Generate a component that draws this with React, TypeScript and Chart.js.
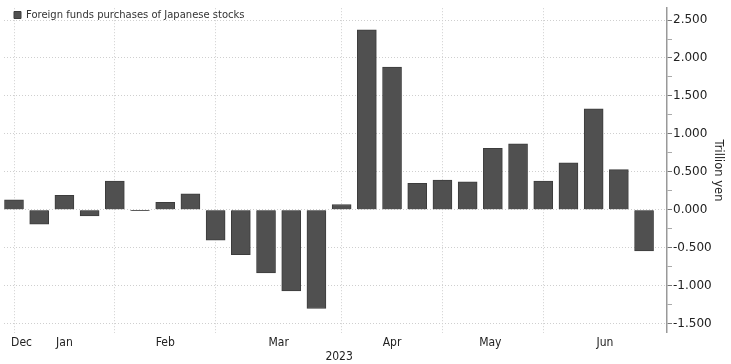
import { useEffect, useRef } from 'react';
import { Chart, registerables } from 'chart.js';

Chart.register(...registerables);

const SERIES_LABEL = 'Foreign funds purchases of Japanese stocks';
const WEEK_INDEX = [0, 1, 2, 3, 4, 5, 6, 7, 8, 9, 10, 11, 12, 13, 14, 15, 16, 17, 18, 19, 20, 21, 22, 23, 24, 25];
const VALUES = [0.13, -0.19, 0.19, -0.08, 0.38, -0.01, 0.1, 0.21, -0.4, -0.59, -0.83, -1.07, -1.3, 0.07, 2.37, 1.88, 0.35, 0.39, 0.37, 0.81, 0.87, 0.38, 0.62, 1.33, 0.53, -0.54];

const MONTH_LABELS = ['Dec', 'Jan', 'Feb', 'Mar', 'Apr', 'May', 'Jun'];
const MONTH_LABEL_POS = [0.3, 2, 6, 10.5, 15, 18.9, 23.45];
const MONTH_GRID_POS = [0, 4, 8, 13, 17, 21];
const YEAR_LABEL = '2023';
const YEAR_LABEL_POS = 12.9;

const Y_TICKS = [-1.5, -1.25, -1, -0.75, -0.5, -0.25, 0, 0.25, 0.5, 0.75, 1, 1.25, 1.5, 1.75, 2, 2.25, 2.5];
const Y_MIN = -1.619;
const Y_MAX = 2.656;
const X_MIN = -0.397;
const X_MAX = 25.91;
const Y_TITLE = 'Trillion yen';

const isMajor = (v: number) => Math.abs(v * 2 - Math.round(v * 2)) < 1e-6;

export default function App() {
  const ref = useRef<HTMLCanvasElement | null>(null);

  useEffect(() => {
    document.body.style.margin = '0';
    if (!ref.current) return;

    const xTicks: { value: number; label: string | string[]; grid: boolean }[] = [];
    MONTH_LABELS.forEach((m, i) => xTicks.push({ value: MONTH_LABEL_POS[i], label: m, grid: false }));
    MONTH_GRID_POS.forEach((p) => xTicks.push({ value: p, label: '', grid: true }));
    xTicks.push({ value: YEAR_LABEL_POS, label: ['', YEAR_LABEL], grid: false });
    xTicks.sort((a, b) => a.value - b.value);

    const chart = new Chart(ref.current, {
      type: 'bar',
      data: {
        datasets: [
          {
            label: SERIES_LABEL,
            data: WEEK_INDEX.map((x, i) => ({ x, y: VALUES[i] })),
            backgroundColor: '#505050',
            borderColor: '#3c3c3c',
            borderWidth: 1,
            barThickness: 19,
          },
        ],
      },
      options: {
        animation: false,
        responsive: false,
        devicePixelRatio: 1,
        layout: { padding: { left: 4, top: 4, right: 0, bottom: -3.5 } },
        plugins: {
          tooltip: { enabled: false },
          legend: {
            position: 'chartArea',
            align: 'start',
            labels: {
              boxWidth: 7,
              boxHeight: 7,
              padding: 10,
              color: '#333',
              font: { family: 'DejaVu Sans', size: 10 },
            },
          },
        },
        scales: {
          x: {
            type: 'linear',
            min: X_MIN,
            max: X_MAX,
            offset: false,
            afterBuildTicks: (scale: any) => {
              scale.ticks = xTicks.map((t) => ({ value: t.value }));
            },
            ticks: {
              autoSkip: false,
              maxRotation: 0,
              padding: 3,
              color: '#222',
              font: { family: "'DejaVu Sans Condensed', 'Liberation Sans Narrow', sans-serif", size: 12, lineHeight: 1.2 },
              callback: (value: any) => {
                const t = xTicks.find((tt) => Math.abs(tt.value - value) < 1e-6);
                return t ? t.label : '';
              },
            },
            grid: {
              offset: false,
              drawTicks: false,
              color: (ctx: any) => {
                const v = ctx.tick ? ctx.tick.value : NaN;
                return MONTH_GRID_POS.some((p) => Math.abs(p - v) < 1e-6) ? '#cfcfcf' : 'rgba(0,0,0,0)';
              },
            },
            border: { display: false, dash: [1, 2] },
          },
          y: {
            position: 'right',
            min: Y_MIN,
            max: Y_MAX,
            afterBuildTicks: (scale: any) => {
              scale.ticks = Y_TICKS.map((v) => ({ value: v }));
            },
            afterFit: (scale: any) => {
              scale.width = 64;
            },
            ticks: {
              padding: 1,
              color: '#222',
              font: { family: 'DejaVu Sans', size: 12 },
              callback: (value: any) => (isMajor(value) ? Number(value).toFixed(3) : ''),
            },
            grid: {
              tickLength: 5,
              color: (ctx: any) => (ctx.tick && isMajor(ctx.tick.value) ? '#cfcfcf' : 'rgba(0,0,0,0)'),
              tickColor: (ctx: any) => (ctx.tick && isMajor(ctx.tick.value) ? '#777' : '#aaa'),
            },
            border: { display: true, color: '#999', width: 1.5, dash: [1, 2] },
            title: {
              display: true,
              text: Y_TITLE,
              color: '#222',
              font: { family: 'DejaVu Sans', size: 11.5 },
              padding: { top: 6, bottom: 0 },
            },
          },
        },
      },
    } as any);

    return () => chart.destroy();
  }, []);

  return (
    <div style={{ position: 'fixed', left: 0, top: 0, width: 731, height: 364 }}>
      <canvas ref={ref} width={731} height={364} />
    </div>
  );
}
